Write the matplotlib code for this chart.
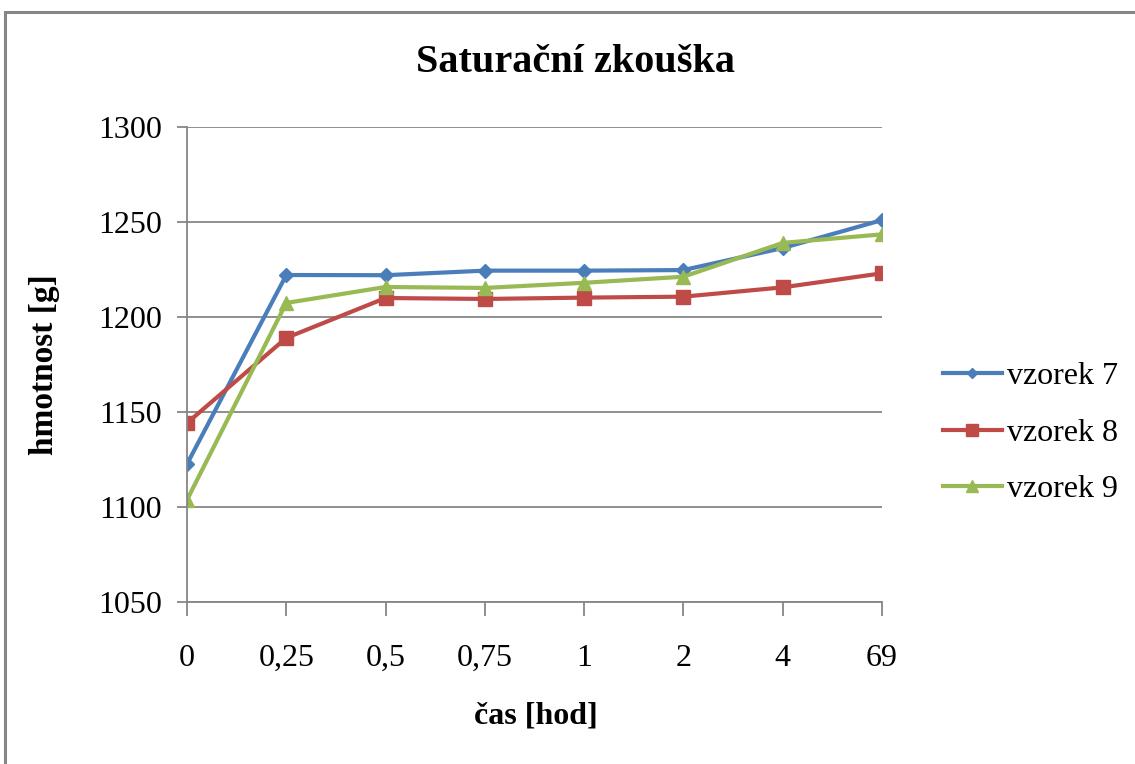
import matplotlib
matplotlib.use("Agg")
import matplotlib.pyplot as plt
from matplotlib.patches import Rectangle

categories = ["0", "0,25", "0,5", "0,75", "1", "2", "4", "69"]
vzorek7 = [1122.6, 1222.1, 1222.0, 1224.4, 1224.4, 1224.7, 1236.3, 1251.0]
vzorek8 = [1144.2, 1189.0, 1210.0, 1209.5, 1210.2, 1210.7, 1215.6, 1223.0]
vzorek9 = [1103.7, 1207.4, 1215.8, 1215.3, 1218.0, 1221.2, 1239.0, 1243.5]
yticks = [1050, 1100, 1150, 1200, 1250, 1300]

plt.rcParams['font.family'] = ['Liberation Serif', 'DejaVu Serif']

W, H = 1135, 764
fig = plt.figure(figsize=(W / 100, H / 100), dpi=100)
fig.patches.append(Rectangle((5 / W, -0.1), 1.2, (H - 12) / H + 0.1, transform=fig.transFigure,
                             fill=False, edgecolor='#868686', linewidth=2.2))

ax = fig.add_axes([187 / W, 1 - 602 / H, (882 - 187) / W, (602 - 127) / H])
x = list(range(len(categories)))
ax.plot(x, vzorek7, color='#4A7EBB', lw=3, marker='D', ms=7, label='vzorek 7')
ax.plot(x, vzorek8, color='#BE4B48', lw=3, marker='s', ms=10, label='vzorek 8')
ax.plot(x, vzorek9, color='#98B954', lw=3, marker='^', ms=10, label='vzorek 9')

ax.set_xlim(0, len(categories) - 1)
ax.set_ylim(1050, 1300)
ax.set_yticks(yticks)
ax.set_yticklabels([str(v) for v in yticks], fontsize=23)
ax.set_xticks(x)
ax.set_xticklabels(categories, fontsize=23)
ax.yaxis.grid(True, color='#868686', lw=1.3)
ax.set_axisbelow(True)
for s in ['top', 'right']:
    ax.spines[s].set_visible(False)
for s in ['left', 'bottom']:
    ax.spines[s].set_color('#868686')
    ax.spines[s].set_linewidth(1.3)
ax.tick_params(axis='y', length=7, width=1.3, color='#868686', pad=11)
ax.tick_params(axis='x', length=10, width=1.3, color='#868686', pad=20)

fig.text(575 / W, 1 - 63 / H, 'Saturační zkouška', ha='center', va='center',
         fontsize=29, fontweight='bold')
fig.text(536 / W, 1 - 716 / H, 'čas [hod]', ha='center', va='center',
         fontsize=23, fontweight='bold')
fig.text(45 / W, 1 - 365 / H, 'hmotnost [g]', ha='center', va='center',
         fontsize=24, fontweight='bold', rotation=90)

leg = ax.legend(loc='center left', bbox_to_anchor=(914 / W, 1 - 433 / H),
                bbox_transform=fig.transFigure, frameon=False, fontsize=23,
                handlelength=1.85, handletextpad=0.15, labelspacing=0.85, markerscale=0.8)

fig.savefig('out.png', dpi=100)
